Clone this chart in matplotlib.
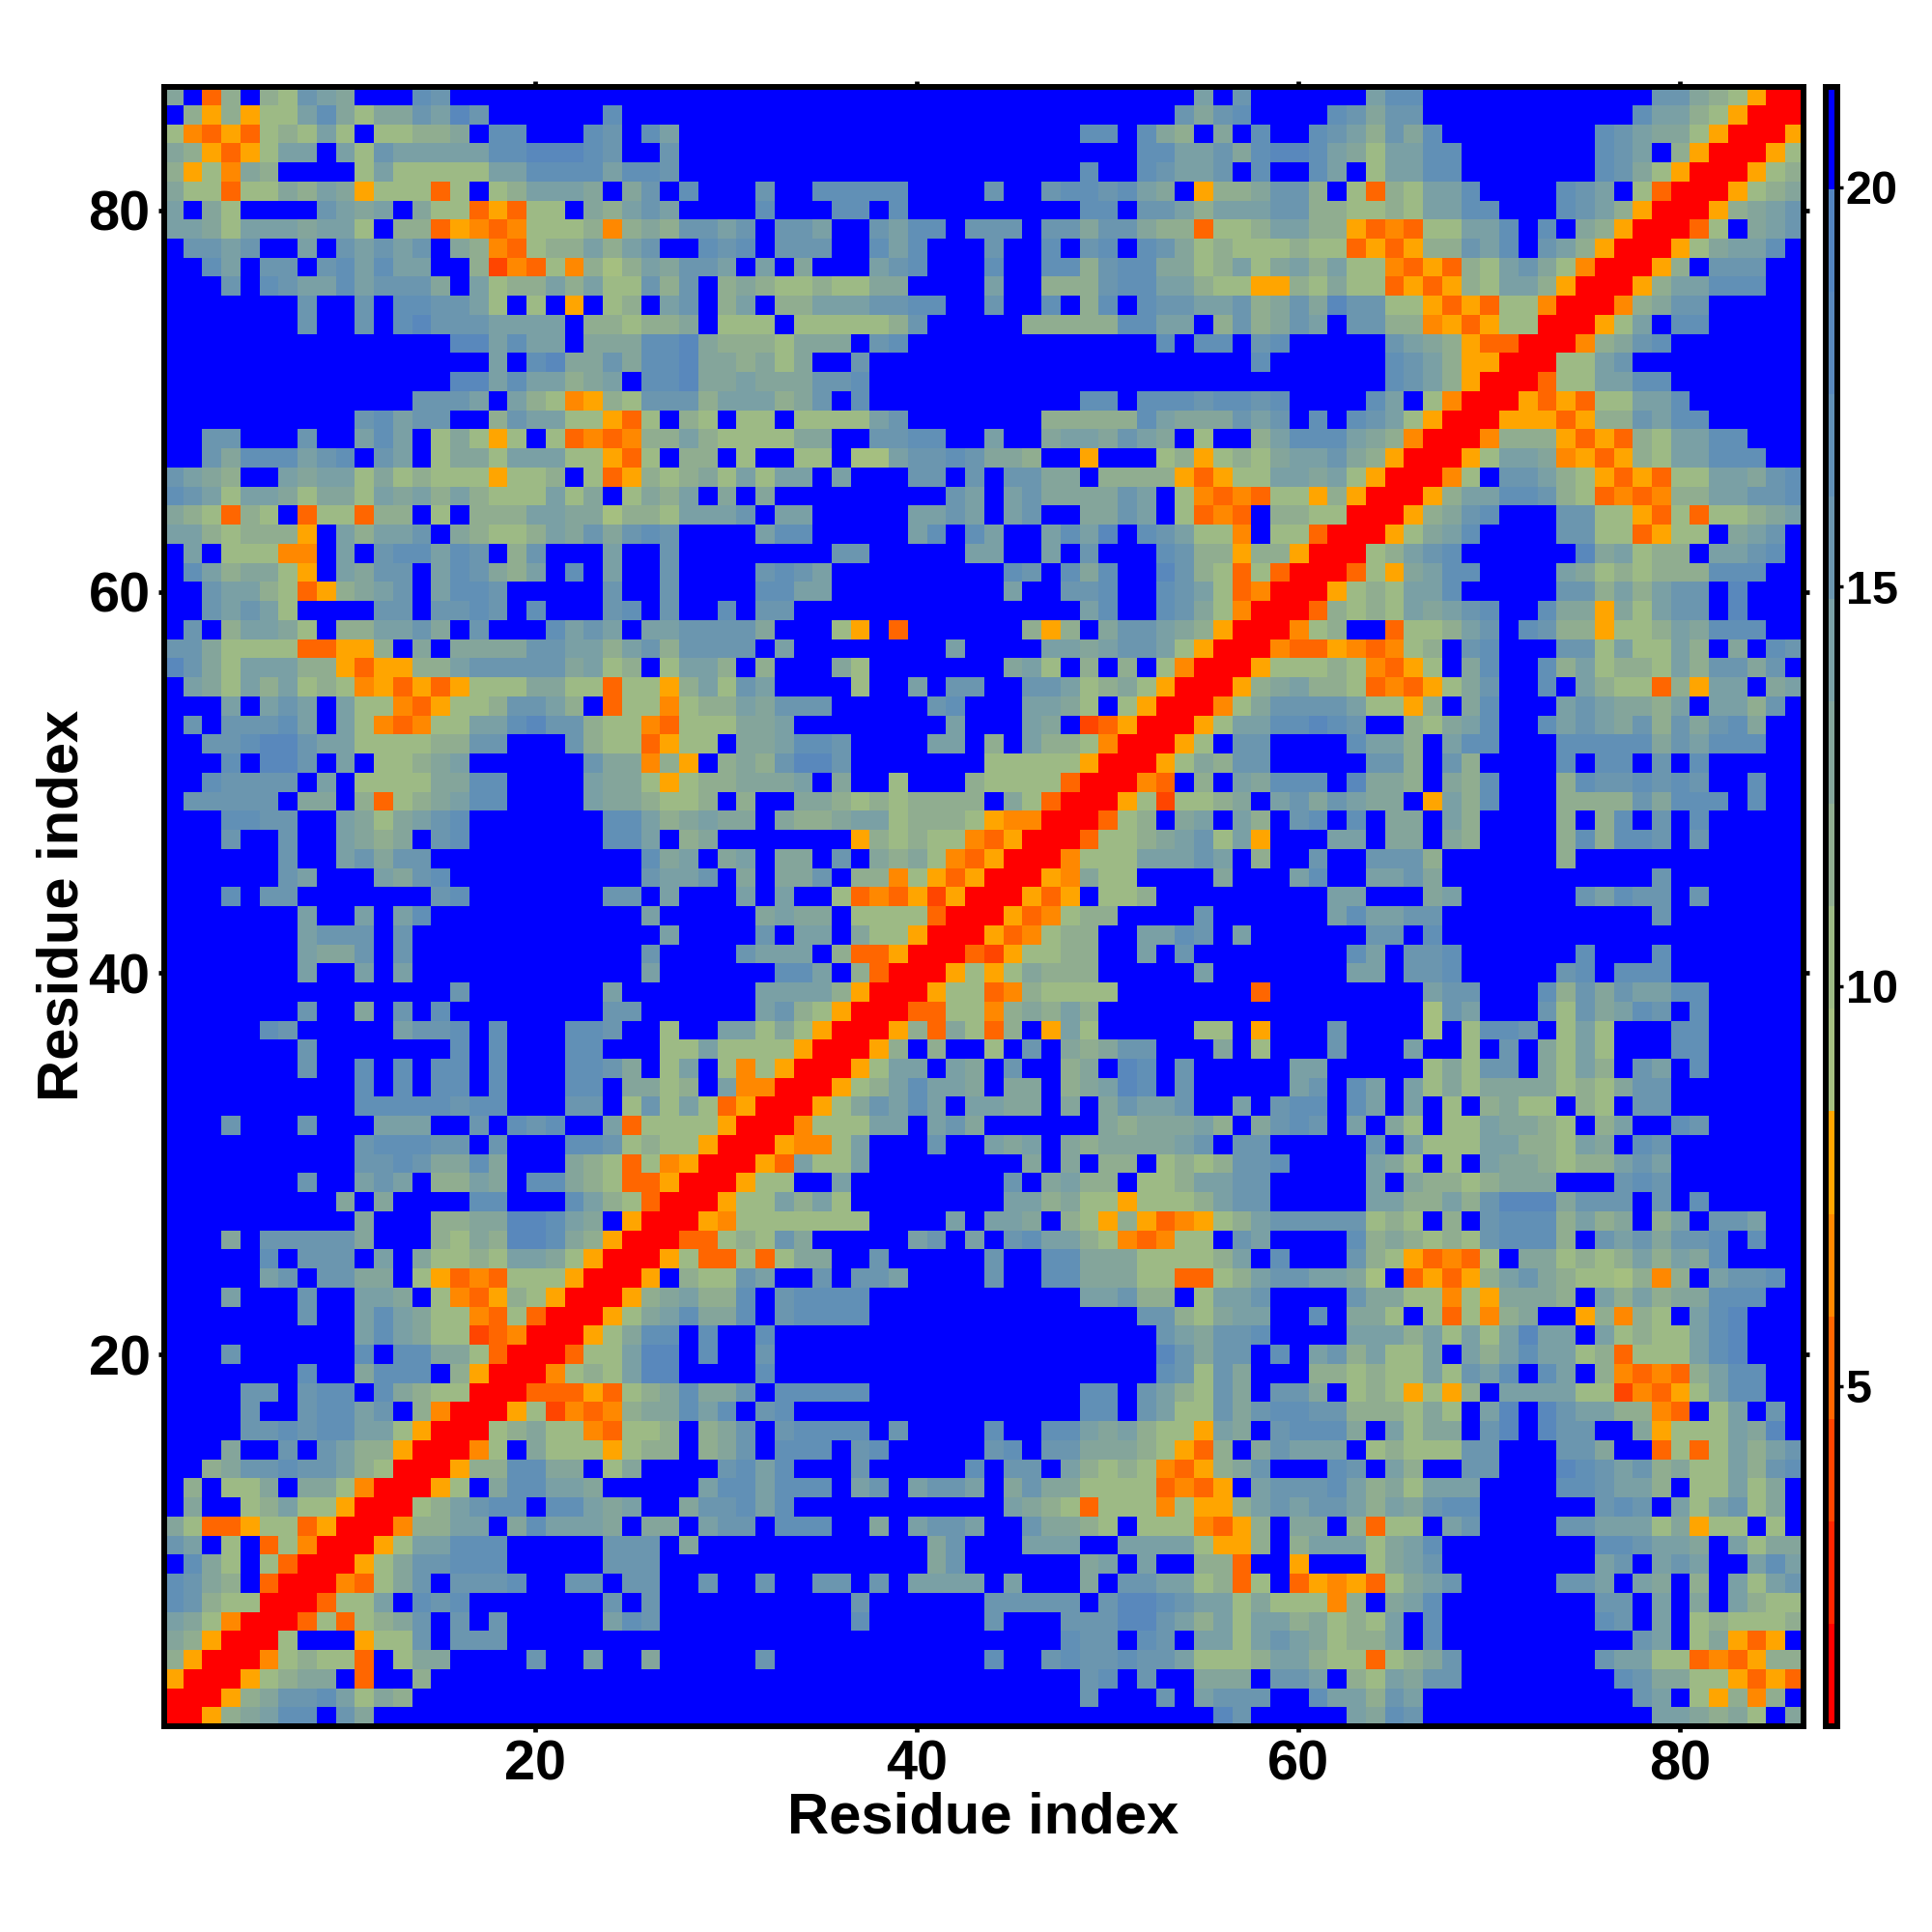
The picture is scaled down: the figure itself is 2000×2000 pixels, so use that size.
import numpy as np
import matplotlib
matplotlib.use("Agg")
import matplotlib.pyplot as plt
from matplotlib.colors import ListedColormap

plt.rcParams['font.family'] = ['Liberation Sans', 'DejaVu Sans']
plt.rcParams['font.weight'] = 'bold'

# one string per residue, from residue 86 (top) down to residue 1, covering
# columns 1..residue; every char is a colour band of the scale (hex, 0 = red, f = blue)
# the map is symmetric, so the other half is mirrored below
band_rows = [
    "9f38f87ba9 fffcbfffff ffffffffff ffffffffff ffffffffff ffffafbfff fffaccffff ffffffffbb 987500",
    "f858577ac9 799badbfff fffcffffff ffffffffff ffffffffff fffb9bcfff fcb9bbffff fffffffcaa 87500",
    "74353787a7 f77889fccf ffcbfcafff ffffffffff ffffffffcc fc98f9fcff cba8b9cfff fffffcba99 7500",
    "985357aafa 7baaaaaccd ddcbffbfff ffffffffff ffffffffff fccaab9cdd ca97aaccff fffffcbaf8 500",
    "857498ffff 7a77777aac cccaccbfff ffffffffff ffffffffcf fcbaabfcff caf7aaccff fffffcb975 00",
    "97737798a9 577737f78a aa9f9bfcff fbffcccccf fffbffbccb ca9f5889bb 8f7387aacf fffcbaf730 0",
    "af97ffffba 9af9773537 7f98abafff fcfffccfcf ffffffffcc fbba8aaabb 887787aacc fffcba8500",
    "aa97aaa9aa 7f88354347 7784898bba bfbbaffbac cfbbbfbb9b b9883778aa 88534377aa cfcf98500",
    "fbbabffafb ababf98437 88a8abffcb cfbbbffcac fffbffcfbc fcb9787778 77353588ba cfba8500",
    "ffcafbbfbc acaaff8243 74868a9bba faf9fffabc fffcffcc8b cc9978a79a 8a77435387 ab97400",
    "fffbfcbaac abbb9fa788 a8a77b8bf8 987787799f fffaff888b ccaa877558 7977353587 aa8500",
    "fffffffbff bfccbba7f7 f5f78fabf8 af88aaabbc cffbffcf8c fcbbaab89b 9dbb775353 77400",
    "fffffffbff bfcdbbbaaa af887889f7 77f777778b fffff88888 ccaaf8b89b afbb884535 7700",
    "ffffffffff fffffddaca af999ccd98 887999fbcf ffffffffff ffcfccfbcf ffffba9853 300",
    "ffffffffff fffffffafc d99b9ccd99 8979ffbfff ffffffffff fffffffcff ffffcba855 00",
    "ffffffffff fffffddaca a89afccd99 a999bbcfff ffffffffff ffffffffff ffffcba850 0",
    "ffffffffff fffbbbafa8 74587bbb8a aa89bfcfff ffffffffcc fcccbccbcf fffcaf7400",
    "ffffffffff bcabbff8ba a77537f87f 77f7777abf ffffff8888 8ca999babf cfcba7500",
    "ffbbfffbff acaf79757f 7343488a87 77799ffbbc cffaff9aa9 ba9f7ff8ac cca98400",
    "ffb9cccabc fbaf7997aa a77537f88f 7ff77f66ab bcb998ff5f ff7857879a ab98500",
    "ba98ffa9aa 7978777577 8f73587897 a7aafafffb bfbfbb99f8 88853577aa 9a7500",
    "cba7aa9799 7a9a8a8777 a79f798af9 f9ffffffff fbafab9999 baf7434377 58500",
    "987387f377 388f7f888a a996887aaa bfaafffffa abafabff99 baf7343f88 7700",
    "aa878885fa 8aabf98778 a9b9bcbfff faccfffffa cfcaffacad fcba774f77 300",
    "faf77744fa fbccacbf8b fffaffbfff fffffbbfff ffaaffafbf ffcb885885 00",
    "fca89975fa 9bbfacb98a fcfaffbfff fbcbafffff ffffcbfc9c ffdb873730 0",
    "ffbaa87358 9abfaccbff fffbffbfff fccaafffff ffffaffbbc ffcba73400",
    "ffbaba7fff fbbfbbcbfc fffbcfbffc fbbfffffff ffffffffac ffcb97400",
    "fbf8aa97f8 8aab9fbfff cabafaabbb b9fff75f3f fffff858f9 bba98500",
    "bb97777335 58f9f9999b baa8ab8bbb bfafffffff faffffaa9a bba7500",
    "db97aaa885 35588abbbb b9a78f7aa8 f8fff97fff ffff9a7f8f 8f7400",
    "fa97a8a787 4535357779 97737758a7 baffff7ffa fbbffbba78 97500",
    "fffafabafa 77435778bb a8f3774788 a9bbbfffff bcfffaa97f 7500",
    "fbfbbbcafa 743477aacd bb87743777 99afffffff fafffa9f23 500",
    "ffbbcddbaa 777788bbff fb8773577f 99accbffff aaf8fa8874 00",
    "fffcfddbfa f7789affff ffb99485f8 98bddbffff fff7777750 0",
    "ffcbbbbfaf 777799ccff ffa9975788 999af9ff7f ff87777300",
    "fbbbbbf99f 83789accff ffa998778f 8ff9987878 888f97300",
    "fffccbbffa 979abcffff fffcca89a9 9f9889aa78 88754400",
    "fffbffbffa 989fbcffff fffccaf89f ffffff5878 7743500",
    "ffffffbffa b9bbffffff fffffc9af9 af99fbf989 743500",
    "ffffffbaff fa9bcfffff fffffbaabf 9f99bf8847 53500",
    "fffcfbbfff ffffbcffff fffbbfafff afaff73435 2500",
    "fffffffaff afacffffff fffffaffff f9a99f7777 300",
    "fffffffabb bfbfffffff ffffffafff fbfaaf9775 00",
    "fffffffa99 bfbfffffff fffffbffff baaaf83350 0",
    "fffffffaff afafffffff fffffaffff ffccaf8300",
    "ffffffffff fffffbffff fffaffffff faaaa8500",
    "fffffffbff 9fbfcfffff fffbbfffff fab87500",
    "fffffcbfff ffabbcfcff fccbff7ffa a797500",
    "fffffffbff fffffcfcff fccfff77a7 777500",
    "fffffffbff cfcfccfcff fccb9f7af7 47500",
    "ffffffffff cfcfccfcff fccf9978fa 4400",
    "ffffffffff cccccbccff fbbf7b7a73 500",
    "fffbfffbff faaaffbfcb cffa377775 00",
    "ffffffffff bcccbbfbff fccb787750 0",
    "ffffffffff bbcb99c9ff f987374500",
    "fffffffbff abaf88a9fc c98733500",
    "fffffffff9 f9ffffccff fca87300",
    "ffffffffff 9fff8899dd ca9f500",
    "fff9fbbbbb 9fff8798dd c98500",
    "fffffcfbbb faf97787aa 97500",
    "fffffabfbb 99f7534377 7500",
    "fffafffbff aa9f743587 500",
    "fffffffbff aca9774373 00",
    "ffffffffff aca9772340 0",
    "fffbffffff cfcc997300",
    "fffffffcff 9cccf8500",
    "ffffbbfbcc fc987700",
    "ffffbffbcc abf8400",
    "ffffbbcbcc aa7500",
    "fff9ffbfba 88500",
    "ff89bbcbba 8700",
    "f8f779f997 400",
    "f9ff78a775 00",
    "9733577350 0",
    "baf7f37400",
    "fc97f7300",
    "cb98f300",
    "cb87700",
    "a97400",
    "98500",
    "8500",
    "500",
    "00",
    "0",
]

band_colors = ['#ff0000', '#ff2500', '#ff4500', '#ff6600', '#ff8800', '#ffa500',
               '#a5bf80', '#9dba85', '#90ad90', '#84a59b', '#7aa0a5', '#6b96af',
               '#6190b6', '#5988bc', '#5385c0', '#0000ff']
value_min = 0.74
value_max = 21.26
ticks_main = [20, 40, 60, 80]
ticks_bar = [5, 10, 15, 20]

n_res = len(band_rows)
band_step = (value_max - value_min) / len(band_colors)
dist = np.zeros((n_res, n_res))
for i, row in enumerate(band_rows):
    chars = row.replace(" ", "")
    if len(chars) != n_res - i:
        raise ValueError(f"row {i}: {len(chars)} != {n_res - i}")
    res_y = n_res - 1 - i
    for j, ch in enumerate(chars):
        val = value_min + (int(ch, 16) + 0.5) * band_step
        dist[res_y, j] = val
        dist[j, res_y] = val

cmap = ListedColormap(band_colors)

fig = plt.figure(figsize=(20, 20), dpi=100)
ax = fig.add_axes([169.5 / 2000, 1 - 1787 / 2000, 1697.5 / 2000, 1697.5 / 2000])
im = ax.imshow(dist, origin='lower', cmap=cmap, vmin=value_min, vmax=value_max,
               extent=(0.5, n_res + 0.5, 0.5, n_res + 0.5), aspect='auto',
               interpolation='nearest')
ax.set_xticks(ticks_main)
ax.set_yticks(ticks_main)
ax.tick_params(top=True, right=True, direction='out', length=4.5, width=3.4,
               labelsize=41.5, pad=5.5)
for side in ax.spines.values():
    side.set_linewidth(4.3)
ax.set_xlabel('Residue index', fontsize=43, fontweight='bold')
ax.set_ylabel('Residue index', fontsize=43, fontweight='bold')
ax.xaxis.set_label_coords((1018 - 169.5) / 1697.5, -(1882 - 1787) / 1697.5)
ax.xaxis.label.set_verticalalignment('center')
ax.yaxis.set_label_coords(-(169.5 - 65) / 1697.5, (1787 - 937) / 1697.5)
ax.yaxis.label.set_verticalalignment('center')

cax = fig.add_axes([1889.5 / 2000, 1 - 1787 / 2000, 12 / 2000, 1697.5 / 2000])
cbar = fig.colorbar(im, cax=cax, ticks=ticks_bar)
cbar.outline.set_linewidth(4.3)
cbar.ax.tick_params(direction='out', length=4.5, width=2.5, labelsize=35, pad=2)

fig.savefig('out.png', dpi=100)
